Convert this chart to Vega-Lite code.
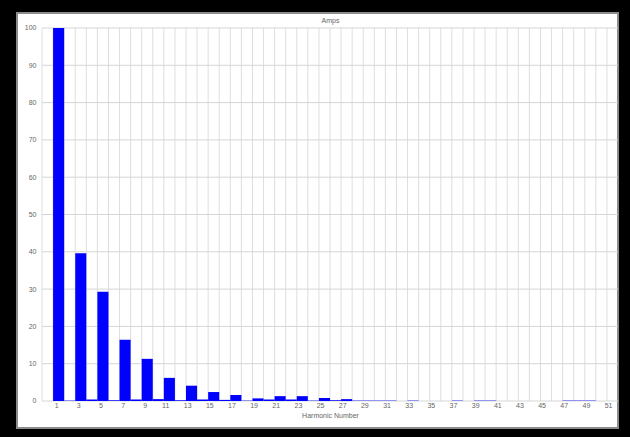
{
  "$schema": "https://vega.github.io/schema/vega-lite/v6.json",
  "width": 601,
  "height": 415,
  "autosize": {"type": "none"},
  "padding": {"left": 17, "top": 13, "right": 12, "bottom": 9},
  "background": "#000000",
  "config": {
    "font": "Liberation Sans",
    "view": {"fill": "#ffffff", "stroke": "#8c8c8c", "strokeWidth": 2}
  },
  "title": {
    "text": "Amps",
    "fontSize": 7,
    "fontWeight": "normal",
    "color": "#666666",
    "offset": -11,
    "dx": 13
  },
  "datasets": {
    "harmonics": [
      {"h": 0, "amps": 0},
      {"h": 1, "amps": 100}, {"h": 2, "amps": 0.1}, {"h": 3, "amps": 39.6},
      {"h": 4, "amps": 0.4}, {"h": 5, "amps": 29.3}, {"h": 6, "amps": 0.2},
      {"h": 7, "amps": 16.4}, {"h": 8, "amps": 0.4}, {"h": 9, "amps": 11.3},
      {"h": 10, "amps": 0.5}, {"h": 11, "amps": 6.2}, {"h": 12, "amps": 0.2},
      {"h": 13, "amps": 4.1}, {"h": 14, "amps": 0.4}, {"h": 15, "amps": 2.4},
      {"h": 16, "amps": 0.3}, {"h": 17, "amps": 1.6}, {"h": 18, "amps": 0.1},
      {"h": 19, "amps": 0.7}, {"h": 20, "amps": 0.4}, {"h": 21, "amps": 1.3},
      {"h": 22, "amps": 0.4}, {"h": 23, "amps": 1.3}, {"h": 24, "amps": 0.1},
      {"h": 25, "amps": 0.8}, {"h": 26, "amps": 0.2}, {"h": 27, "amps": 0.5},
      {"h": 28, "amps": 0.1}, {"h": 29, "amps": 0.1}, {"h": 30, "amps": 0.1},
      {"h": 31, "amps": 0.1}, {"h": 32, "amps": 0}, {"h": 33, "amps": 0.1},
      {"h": 34, "amps": 0}, {"h": 35, "amps": 0}, {"h": 36, "amps": 0},
      {"h": 37, "amps": 0.1}, {"h": 38, "amps": 0}, {"h": 39, "amps": 0.1},
      {"h": 40, "amps": 0.1}, {"h": 41, "amps": 0}, {"h": 42, "amps": 0},
      {"h": 43, "amps": 0}, {"h": 44, "amps": 0}, {"h": 45, "amps": 0},
      {"h": 46, "amps": 0}, {"h": 47, "amps": 0.1}, {"h": 48, "amps": 0.1},
      {"h": 49, "amps": 0.1}, {"h": 50, "amps": 0}, {"h": 51, "amps": 0}
    ],
    "levels": [
      {"v": 0}, {"v": 10}, {"v": 20}, {"v": 30}, {"v": 40}, {"v": 50},
      {"v": 60}, {"v": 70}, {"v": 80}, {"v": 90}, {"v": 100}
    ]
  },
  "layer": [
    {
      "data": {"name": "harmonics"},
      "mark": {"type": "rule", "color": "#dedede", "strokeWidth": 1},
      "encoding": {
        "x": {"field": "h", "type": "ordinal", "bandPosition": 0},
        "y": {"datum": 0, "type": "quantitative"},
        "y2": {"datum": 100}
      }
    },
    {
      "data": {"name": "levels"},
      "mark": {"type": "rule", "color": "#d6d6d6", "strokeWidth": 1},
      "encoding": {
        "y": {"field": "v", "type": "quantitative"},
        "x": {"datum": 0, "type": "ordinal", "bandPosition": 0},
        "x2": {"datum": 51, "bandPosition": 1}
      }
    },
    {
      "data": {"name": "harmonics"},
      "mark": {"type": "bar", "color": "#0000ff"},
      "encoding": {
        "x": {
          "field": "h",
          "type": "ordinal",
          "title": "Harmonic Number",
          "scale": {
            "domain": [0, 1, 2, 3, 4, 5, 6, 7, 8, 9, 10, 11, 12, 13, 14, 15, 16, 17, 18, 19, 20, 21, 22, 23, 24, 25, 26, 27, 28, 29, 30, 31, 32, 33, 34, 35, 36, 37, 38, 39, 40, 41, 42, 43, 44, 45, 46, 47, 48, 49, 50, 51],
            "range": [25, 601],
            "paddingInner": 0,
            "paddingOuter": 0
          },
          "axis": {
            "orient": "bottom",
            "offset": -27,
            "ticks": false,
            "grid": false,
            "domain": false,
            "labelAngle": 0,
            "labelFontSize": 7,
            "labelColor": "#666666",
            "labelPadding": 4,
            "labelExpr": "datum.value % 2 === 1 ? datum.label : ''",
            "title": "Harmonic Number",
            "titleFontSize": 7,
            "titleFontWeight": "normal",
            "titleColor": "#666666",
            "titlePadding": 3
          }
        },
        "y": {
          "field": "amps",
          "type": "quantitative",
          "title": null,
          "scale": {"domain": [-7.24, 104.02], "nice": false, "zero": false},
          "axis": {
            "orient": "left",
            "offset": -26,
            "values": [0, 10, 20, 30, 40, 50, 60, 70, 80, 90, 100],
            "ticks": false,
            "grid": false,
            "domain": false,
            "labelFontSize": 7,
            "labelColor": "#666666",
            "labelPadding": 7,
            "title": null
          }
        },
        "y2": {"datum": 0}
      }
    }
  ]
}
